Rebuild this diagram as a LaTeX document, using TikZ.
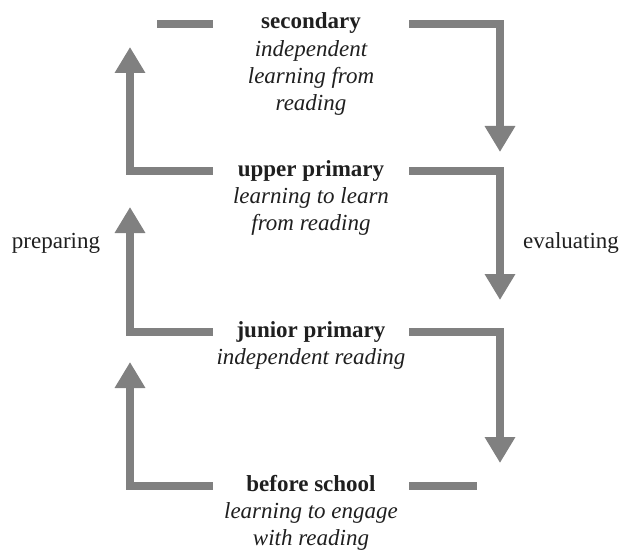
\documentclass[tikz,border=0pt]{standalone}
\usepackage{fontspec}
\setmainfont{Liberation Serif}
\usetikzlibrary{positioning}
\usetikzlibrary{arrows.meta}

\tikzset{
	stage/.style={font=\fontsize{23}{27}\selectfont\bfseries, text=black!88, minimum width=196pt, inner sep=0pt, text height=15pt, text depth=5pt},
	what/.style={font=\fontsize{23}{27}\selectfont\itshape, text=black!88, align=center, inner sep=0pt},
	side/.style={font=\fontsize{23}{27}\selectfont, text=black!88},
	bar/.style={draw=black!50, line width=8pt},
	flow/.style={bar, -{Triangle[width=29pt,length=26pt]}}
}

\begin{document}
\begin{tikzpicture}[x=1pt,y=-1pt]
			\useasboundingbox (0,0) rectangle (622,551);
			% stages
			\node[stage] (sec) at (311,24) {secondary};
			\node[what, below=6pt of sec] (secT) {independent\\learning from\\reading};
			\node[stage] (up) at (311,171) {upper primary};
			\node[what, below=6pt of up] (upT) {learning to learn\\from reading};
			\node[stage] (jun) at (311,332) {junior primary};
			\node[what, below=6pt of jun] (junT) {independent reading};
			\node[stage] (bef) at (311,486) {before school};
			\node[what, below=6pt of bef] (befT) {learning to engage\\with reading};
			\node[side] (prep) at (56,243) {preparing};
			\node[side] (eval) at (571,243) {evaluating};
			% arrow ends
			\coordinate (r1) at (500,152);
			\coordinate (r2) at (500,300);
			\coordinate (r3) at (500,463);
			\coordinate (r4) at (477,486);
			\coordinate (l1) at (130,47);
			\coordinate (l2) at (130,207);
			\coordinate (l3) at (130,362);
			\coordinate (l4) at (157,24);
			\foreach \a/\b in {sec/r1, up/r2, jun/r3}{
				\draw[flow] (\a.east) -| (\b);
			}
			\foreach \a/\b in {up/l1, jun/l2, bef/l3}{
				\draw[flow] (\a.west) -| (\b);
			}
			\draw[bar] (bef.east) -- (r4);
			\draw[bar] (l4) -- (sec.west);
		\end{tikzpicture}
\end{document}
